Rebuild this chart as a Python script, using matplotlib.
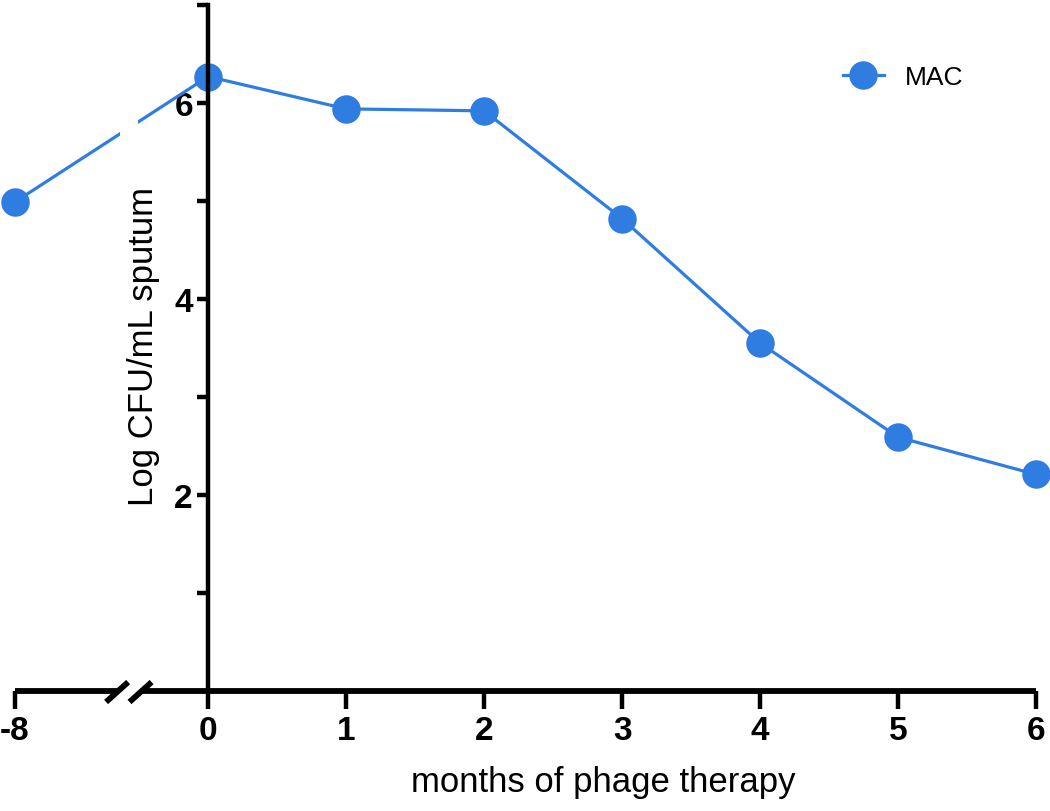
import matplotlib
matplotlib.use("Agg")
import matplotlib.pyplot as plt
import matplotlib.transforms as mtransforms

# data
months = [-8, 0, 1, 2, 3, 4, 5, 6]
log_cfu = [4.99, 6.27, 5.94, 5.92, 4.82, 3.55, 2.59, 2.21]
series_name = "MAC"
x_ticks = [-8, 0, 1, 2, 3, 4, 5, 6]
y_major = [2, 4, 6]
y_minor = [1, 3, 5, 7]

BLUE = "#2f7de0"
NEG_SCALE = 0.175          # the -8..0 stretch is squeezed in the broken axis
BREAK_LO, BREAK_HI = -0.66, -0.49   # gap in the axis (axis units)


def to_pos(m):
	# map a month to its place on the broken x axis
	return m if m >= 0 else m * NEG_SCALE


def main():
	plt.rcParams['font.family'] = ['Liberation Sans', 'DejaVu Sans']
	fig = plt.figure(figsize=(10.5, 8.12), dpi=100)
	ax = fig.add_axes([15 / 1050, 120 / 812, 1021 / 1050, 686 / 812])

	xs = [to_pos(m) for m in months]
	ax.plot(xs, log_cfu, color=BLUE, lw=2.3, marker='o', ms=19.5,
			mec=BLUE, mfc=BLUE, clip_on=False, zorder=3, label=series_name)
	# white gap through the line at the axis break
	ax.axvspan(BREAK_LO + 0.02, BREAK_HI - 0.02, ymin=5.2 / 7, ymax=6.4 / 7,
			   color='white', zorder=4, lw=0)

	ax.set_xlim(to_pos(-8), 6)
	ax.set_ylim(0, 7)

	# spines
	for s in ['top', 'right', 'bottom']:
		ax.spines[s].set_visible(False)
	ax.spines['left'].set_position(('data', 0))
	ax.spines['left'].set_linewidth(3.2)
	ax.spines['left'].set_zorder(5)

	# hand-drawn broken x axis
	trans = mtransforms.blended_transform_factory(ax.transData, ax.transAxes)
	xl = to_pos(-8)
	ax.plot([xl, BREAK_LO], [0, 0], color='black', lw=4.2, transform=trans,
			clip_on=False, solid_capstyle='butt', zorder=5)
	ax.plot([BREAK_HI, 6], [0, 0], color='black', lw=4.2, transform=trans,
			clip_on=False, solid_capstyle='butt', zorder=5)
	for bx in [BREAK_LO, BREAK_HI]:
		ax.plot([bx - 0.08, bx + 0.08], [-0.016, 0.013], color='black', lw=4.2,
				transform=trans, clip_on=False, solid_capstyle='butt', zorder=5)

	ax.set_xticks([to_pos(m) for m in x_ticks])
	ax.set_xticklabels([str(m) for m in x_ticks], fontsize=24, fontweight='bold')
	ax.tick_params(axis='x', direction='out', length=13, width=3.2, pad=4)

	ax.set_yticks(y_major)
	ax.set_yticklabels([str(v) for v in y_major], fontsize=24, fontweight='bold')
	ax.set_yticks(y_minor, minor=True)
	ax.tick_params(axis='y', which='both', direction='out', length=8, width=3.2, pad=3)

	ax.set_xlabel('months of phage therapy', fontsize=25)
	ax.xaxis.set_label_coords(603 / 1050, 1 - 783 / 812, transform=fig.transFigure)
	ax.xaxis.label.set_va('center')
	ax.set_ylabel('Log CFU/mL sputum', fontsize=25)
	ax.yaxis.set_label_coords(144 / 1050, 1 - 347 / 812, transform=fig.transFigure)
	ax.yaxis.label.set_va('center')

	ax.legend(loc='center left', bbox_to_anchor=(843 / 1050, 1 - 78 / 812),
			  bbox_transform=fig.transFigure, frameon=False, fontsize=19,
			  handlelength=1.55, handletextpad=0.8, borderpad=0, borderaxespad=0)

	fig.savefig('out.png', dpi=100)


if __name__ == "__main__":
	main()
